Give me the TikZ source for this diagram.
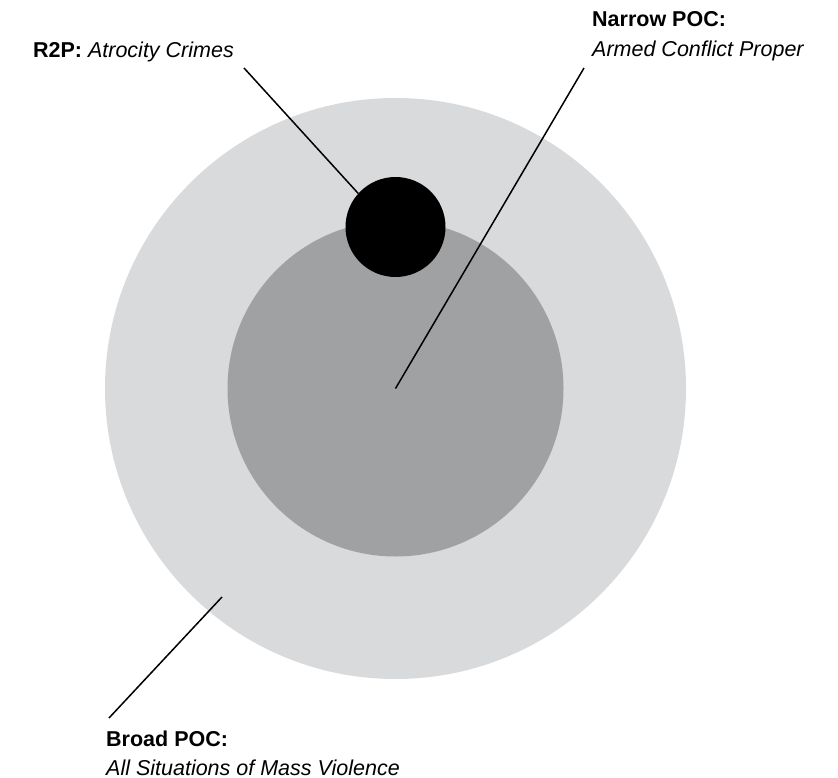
\documentclass[tikz,border=0pt]{standalone}
\usepackage{fontspec}
\setmainfont{Liberation Sans}
\usetikzlibrary{positioning}
\definecolor{lightgrey}{HTML}{D9DADC}
\definecolor{midgrey}{HTML}{A0A1A3}

\begin{document}
\begin{tikzpicture}[x=1pt, y=-1pt,
  ring/.style={circle, inner sep=0pt, draw=none},
  lbl/.style={inner sep=0pt, font=\fontsize{21.5}{25}\selectfont\bfseries},
  sub/.style={inner sep=0pt, font=\fontsize{21.5}{25}\selectfont\itshape},
  leader/.style={line width=1.5pt}]
\useasboundingbox (0,0) rectangle (838,778);
% nested circles
\node[ring, fill=lightgrey, minimum size=581pt] (broadcirc) at (395.5,388.5) {};
\node[ring, fill=midgrey, minimum size=336pt] (narrowcirc) at (395.5,388.5) {};
\node[ring, fill=black, minimum size=100pt] (r2pcirc) at (395.5,227) {};
% labels
\node[lbl, anchor=base east] (r2plbl) at (234,58)
  {R2P: {\mdseries\itshape Atrocity Crimes}};
\node[lbl, anchor=base west] (narrowlbl) at (592,27) {Narrow POC:};
\node[sub, anchor=base west] (narrowsub)
  at ([yshift=-30pt]narrowlbl.base west) {Armed Conflict Proper};
\node[lbl, anchor=base west] (broadlbl) at (106,746) {Broad POC:};
\node[sub, anchor=base west] (broadsub)
  at ([yshift=-29pt]broadlbl.base west) {All Situations of Mass Violence};
% leader lines
\coordinate (r2pend) at (244,68);
\coordinate (narrowend) at (584,68);
\coordinate (broadend) at (109,718);
\coordinate (broadtip) at (222,597);
\draw[leader] (r2pend) -- (r2pcirc.138);
\draw[leader] (narrowend) -- (narrowcirc.center);
\draw[leader] (broadend) -- (broadtip);
\end{tikzpicture}
\end{document}
